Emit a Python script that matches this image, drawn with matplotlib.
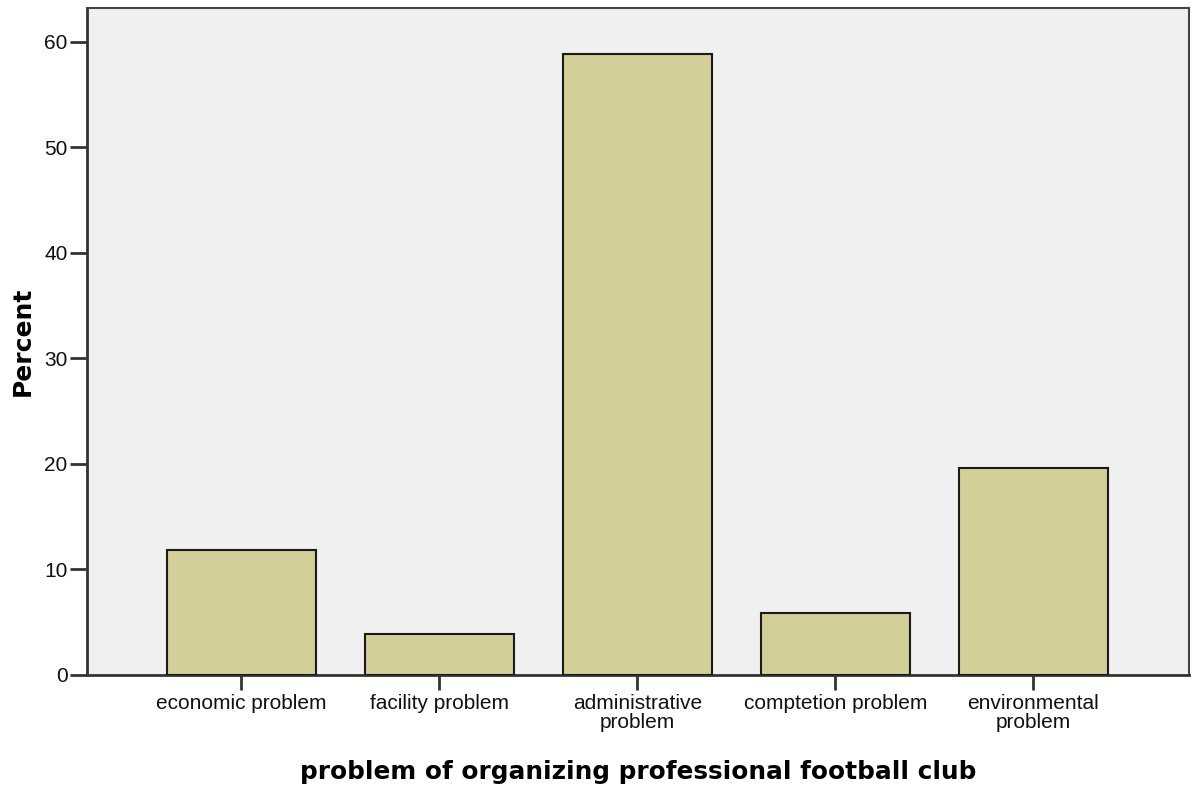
import matplotlib
matplotlib.use("Agg")
import matplotlib.pyplot as plt

# Données
categories = ["economic problem", "facility problem", "administrative\nproblem",
              "comptetion problem", "environmental\nproblem"]
pourcentages = [11.8, 3.9, 58.8, 5.9, 19.6]
graduations_y = [0, 10, 20, 30, 40, 50, 60]

plt.rcParams['font.family'] = ['Liberation Sans', 'DejaVu Sans']

fig = plt.figure(figsize=(11.91, 7.89), dpi=100)
ax = fig.add_axes([0.073, 0.1445, 0.925, 0.8454])
ax.set_facecolor("#f0f0f0")

positions = list(range(len(categories)))
ax.bar(positions, pourcentages, width=0.753, color="#d3cf98",
       edgecolor="#1a1a1a", linewidth=1.5, zorder=3)

ax.set_xlim(-0.78, 4.785)
ax.set_ylim(0, 63.2)
ax.set_yticks(graduations_y)
ax.set_xticks(positions)
ax.set_xticklabels(categories, fontsize=15, linespacing=1.0, color="#111111")
ax.tick_params(axis="y", labelsize=15, labelcolor="#111111", length=12, width=2,
               color="#333333", pad=2)
ax.tick_params(axis="x", length=11, width=2, color="#333333", pad=3)

for cote in ["left", "bottom"]:
    ax.spines[cote].set_linewidth(2)
    ax.spines[cote].set_color("#333333")
for cote in ["top", "right"]:
    ax.spines[cote].set_linewidth(1.5)
    ax.spines[cote].set_color("#444444")

ax.set_ylabel("Percent", fontsize=18, fontweight="bold", family="DejaVu Sans", labelpad=7)
ax.set_xlabel("problem of organizing professional football club", fontsize=17.8,
              fontweight="bold", family="DejaVu Sans", labelpad=20)

fig.savefig("out.png", dpi=100)
